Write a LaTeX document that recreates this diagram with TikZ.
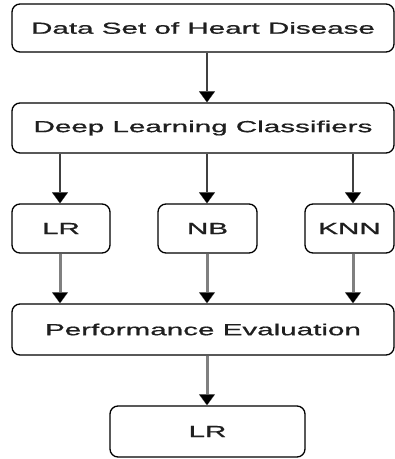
\documentclass[tikz,border=0pt]{standalone}
\usepackage{fontspec}
\setmainfont{Liberation Sans}
\newfontfamily\heavyfont{Liberation Sans}[FakeBold=0.7]
\usetikzlibrary{arrows.meta}
\tikzset{
  box/.style={draw=black, line width=1.3pt, rounded corners=8pt, fill=white, inner sep=0pt,
    font=\heavyfont\fontsize{16pt}{18pt}\selectfont, text=black!88},
  tip/.style={-{Triangle[width=16pt,length=11pt,fill=black,line width=0.1pt]}},
  arrdark/.style={draw=black!75, line width=2.2pt, tip},
  arrgray/.style={draw=black!50, line width=3pt, tip},
}
\newcommand{\wide}[1]{\scalebox{1.85}[1]{#1}}
\begin{document}
\begin{tikzpicture}[x=1pt,y=-1pt]
\useasboundingbox (0,0) rectangle (395,459);
\node[box, minimum width=382pt, minimum height=48pt] (ds) at (203,28) {\wide{Data Set of Heart Disease}};
\node[box, minimum width=382pt, minimum height=50pt] (dl) at (203,128) {\wide{Deep Learning Classifiers}};
\node[box, minimum width=98pt, minimum height=49pt] (lr) at (61,228.5) {\wide{LR}};
\node[box, minimum width=99pt, minimum height=49pt] (nb) at (207.5,228.5) {\wide{NB}};
\node[box, minimum width=89pt, minimum height=49pt] (knn) at (349.5,228.5) {\wide{KNN}};
\node[box, minimum width=382pt, minimum height=51pt] (pe) at (203,329.5) {\wide{Performance Evaluation}};
\node[box, minimum width=195pt, minimum height=51pt] (res) at (207.5,431.5) {\wide{LR}};

\draw[arrdark] ([xshift=4pt]ds.south) -- ([xshift=4pt]dl.north);
\draw[arrdark] ([xshift=-1pt]lr.north |- dl.south) -- ([xshift=-1pt]lr.north);
\draw[arrdark] ([xshift=-0.5pt]nb.north |- dl.south) -- ([xshift=-0.5pt]nb.north);
\draw[arrdark] ([xshift=3.5pt]knn.north |- dl.south) -- ([xshift=3.5pt]knn.north);
\draw[arrgray] ([xshift=-1pt]lr.south) -- ([xshift=-1pt]lr.south |- pe.north);
\draw[arrgray] ([xshift=-0.5pt]nb.south) -- ([xshift=-0.5pt]nb.south |- pe.north);
\draw[arrgray] ([xshift=3.5pt]knn.south) -- ([xshift=3.5pt]knn.south |- pe.north);
\draw[arrgray] ([xshift=-0.5pt]res.north |- pe.south) -- ([xshift=-0.5pt]res.north);
\end{tikzpicture}
\end{document}
